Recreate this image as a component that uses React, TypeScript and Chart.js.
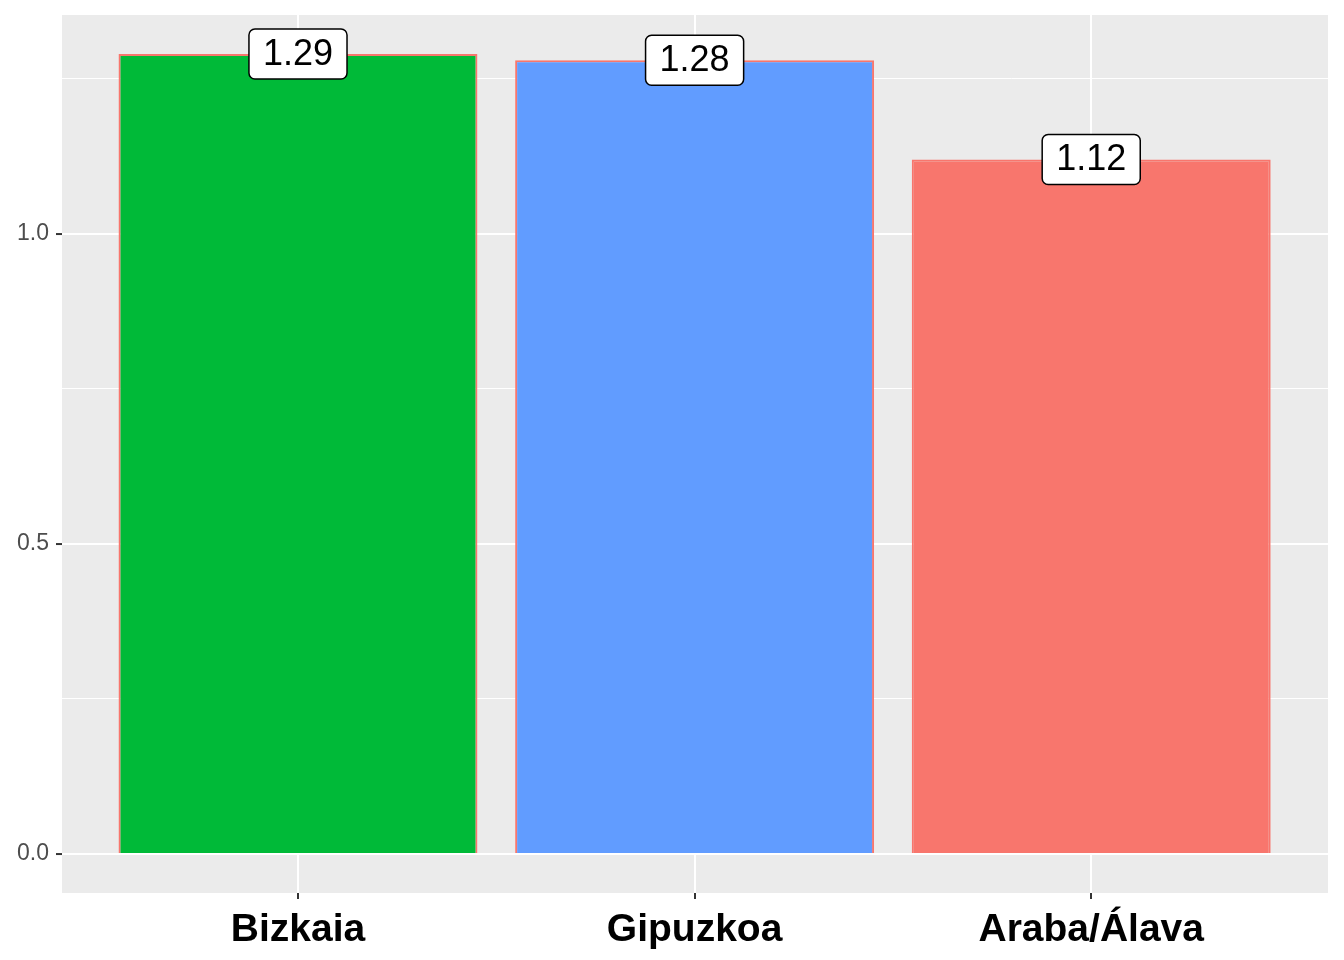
import React, { useEffect, useRef } from "react";
import { Chart, registerables } from "chart.js";

Chart.register(...registerables);

const categories = ["Bizkaia", "Gipuzkoa", "Araba/Álava"];
const values = [1.29, 1.28, 1.12];
const barColors = ["#00BA38", "#619CFF", "#F8766D"];
const labels = ["1.29", "1.28", "1.12"];
const yTicks = [0, 0.25, 0.5, 0.75, 1.0, 1.25];
const yMajor = [0, 0.5, 1.0];

const FONT = "'Liberation Sans', Arial, Helvetica, sans-serif";

const panelBg = {
  id: "panelBg",
  beforeDraw(chart: any) {
    const { ctx, chartArea } = chart;
    ctx.save();
    ctx.fillStyle = "#EBEBEB";
    ctx.fillRect(chartArea.left, chartArea.top, chartArea.right - chartArea.left, chartArea.bottom - chartArea.top);
    ctx.restore();
  },
};

const boxLabels = {
  id: "boxLabels",
  afterDatasetsDraw(chart: any) {
    const { ctx } = chart;
    const meta = chart.getDatasetMeta(0);
    ctx.save();
    ctx.font = `36px ${FONT}`;
    ctx.textAlign = "center";
    ctx.textBaseline = "middle";
    meta.data.forEach((el: any, i: number) => {
      const text = labels[i];
      const w = ctx.measureText(text).width + 28;
      const h = 50;
      const x = el.x - w / 2;
      const y = el.y - h / 2;
      ctx.beginPath();
      ctx.roundRect(x, y, w, h, 6);
      ctx.fillStyle = "#FFFFFF";
      ctx.fill();
      ctx.lineWidth = 1.5;
      ctx.strokeStyle = "#000000";
      ctx.stroke();
      ctx.fillStyle = "#000000";
      ctx.fillText(text, el.x, el.y + 1);
    });
    ctx.restore();
  },
};

export default function App() {
  const ref = useRef<HTMLCanvasElement>(null);
  useEffect(() => {
    document.body.style.margin = "0";
    const data = values.map((v, i) => ({ x: i, y: v }));
    const chart = new Chart(ref.current!, {
      type: "bar",
      data: {
        datasets: [
          {
            data: data as any,
            backgroundColor: barColors,
            borderColor: "#F8766D",
            borderWidth: 2,
            barPercentage: 0.905,
            categoryPercentage: 1,
          },
        ],
      },
      options: {
        animation: false,
        responsive: false,
        maintainAspectRatio: false,
        layout: { padding: { top: 15, right: 16, left: 0, bottom: 0 } },
        plugins: { legend: { display: false }, tooltip: { enabled: false } },
        scales: {
          x: {
            type: "linear",
            offset: false,
            min: -0.595,
            max: 2.597,
            afterBuildTicks(scale: any) {
              scale.ticks = [0, 1, 2].map((v) => ({ value: v }));
            },
            afterFit(scale: any) {
              scale.height = 67;
              scale.paddingLeft = 0;
              scale.paddingRight = 0;
            },
            border: { display: false },
            grid: {
              offset: false,
              color: "#FFFFFF",
              lineWidth: 2,
              drawTicks: true,
              tickLength: 6,
              tickColor: "#333333",
              tickWidth: 2,
            },
            ticks: {
              autoSkip: false,
              maxRotation: 0,
              padding: 8,
              color: "#000000",
              font: { family: FONT, size: 39, weight: "bold" },
              callback: (v: any) => categories[v as number] ?? "",
            },
          },
          y: {
            min: -0.063,
            max: 1.353,
            afterBuildTicks(scale: any) {
              scale.ticks = yTicks.map((v) => ({ value: v }));
            },
            afterFit(scale: any) {
              scale.width = 62;
              scale.paddingTop = 0;
              scale.paddingBottom = 0;
            },
            border: { display: false },
            grid: {
              color: "#FFFFFF",
              lineWidth: (c: any) => (yMajor.includes(c.tick?.value) ? 2.1 : 1),
              drawTicks: true,
              tickLength: 6,
              tickColor: (c: any) => (yMajor.includes(c.tick?.value) ? "#333333" : "rgba(0,0,0,0)"),
              tickWidth: 2,
            },
            ticks: {
              autoSkip: false,
              padding: 7,
              color: "#4D4D4D",
              font: { family: FONT, size: 23 },
              callback: (v: any) => (yMajor.includes(v) ? Number(v).toFixed(1) : ""),
            },
          },
        },
      } as any,
      plugins: [panelBg, boxLabels],
    });
    return () => chart.destroy();
  }, []);
  return (
    <div style={{ width: 1344, height: 960 }}>
      <canvas ref={ref} width={1344} height={960} style={{ width: 1344, height: 960, display: "block" }} />
    </div>
  );
}
